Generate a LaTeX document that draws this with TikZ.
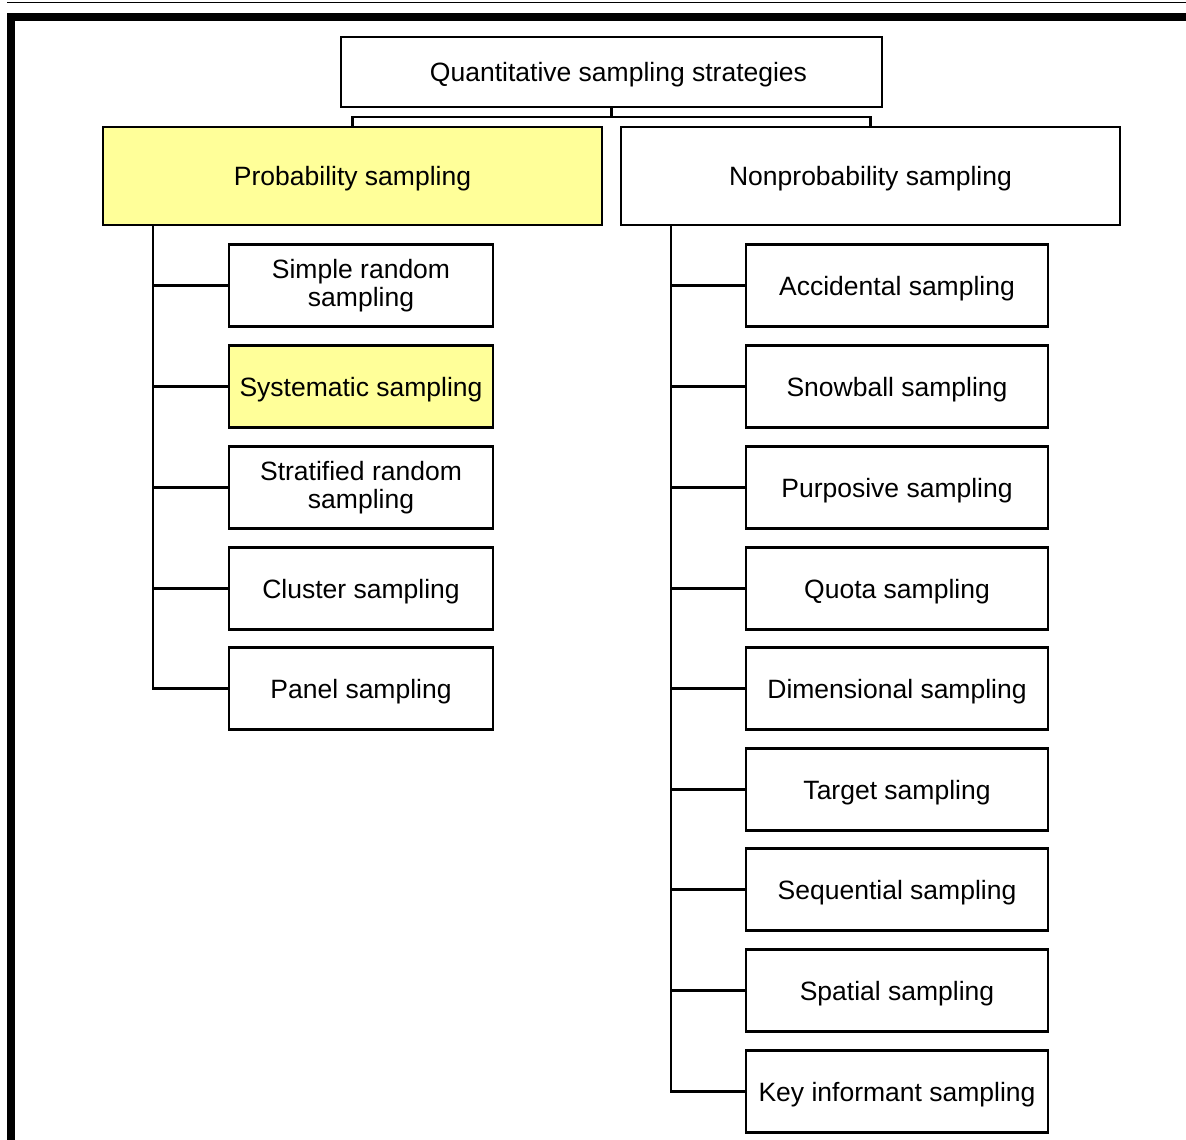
\documentclass[tikz,border=0pt]{standalone}
\usepackage{fontspec}
\setmainfont{Liberation Sans}
\definecolor{hilite}{HTML}{FFFF99}
\begin{document}
\begin{tikzpicture}[x=1pt, y=-1pt,
  box/.style={draw, line width=2.2pt, fill=white, align=center, inner sep=0pt,
    font=\fontsize{26.5}{29}\selectfont,
    execute at begin node={\rule{0pt}{24.5pt}}},
  twoline/.style={font=\fontsize{26.5}{28}\selectfont,
    execute at begin node={\rule{0pt}{30pt}}},
  headbox/.style={box, minimum width=541pt, minimum height=70pt},
  catbox/.style={box, minimum width=499pt, minimum height=98pt},
  leftbox/.style={box, minimum width=264pt, minimum height=82pt},
  rightbox/.style={box, minimum width=302pt, minimum height=82pt},
  marked/.style={fill=hilite},
  link/.style={line width=2.2pt}]
\useasboundingbox (0,0) rectangle (1186,1140);
\clip (0,0) rectangle (1186,1140);

% page rules
\draw[line width=1.6pt] (7,2.5) -- (1190,2.5);
\draw[line width=8pt, miter limit=10] (11,1150) -- (11,17) -- (1190,17);

% root and the two families
\node[headbox] (root) at (611.5,72) {\hspace*{14pt}Quantitative sampling strategies};
\node[catbox, marked] (prob) at (352.5,176) {Probability sampling};
\node[catbox] (nonprob) at (870.5,176) {Nonprobability sampling};

\coordinate (bus) at (611.5,117);
\draw[link] (root.south) -- (bus);
\draw[link] (prob.north) |- (bus) -| (nonprob.north);

% probability methods
\node[leftbox, twoline] (p1) at (361,285.5) {Simple random\\sampling};
\node[leftbox, marked] (p2) at (361,386.5) {Systematic sampling};
\node[leftbox, twoline] (p3) at (361,487.5) {Stratified random\\sampling};
\node[leftbox] (p4) at (361,588.5) {Cluster sampling};
\node[leftbox] (p5) at (361,688.5) {Panel sampling};

\coordinate (lspine) at (153,225);
\draw[link] (lspine) |- (p5.west);
\foreach \n in {p1,p2,p3,p4}
  \draw[link] (lspine |- \n.west) -- (\n.west);

% nonprobability methods
\node[rightbox] (n1) at (897,285.5) {Accidental sampling};
\node[rightbox] (n2) at (897,386.5) {Snowball sampling};
\node[rightbox] (n3) at (897,487.5) {Purposive sampling};
\node[rightbox] (n4) at (897,588.5) {Quota sampling};
\node[rightbox] (n5) at (897,688.5) {Dimensional sampling};
\node[rightbox] (n6) at (897,789.5) {Target sampling};
\node[rightbox] (n7) at (897,889.5) {Sequential sampling};
\node[rightbox] (n8) at (897,990.5) {Spatial sampling};
\node[rightbox] (n9) at (897,1091.5) {Key informant sampling};

\coordinate (rspine) at (671,225);
\draw[link] (rspine) |- (n9.west);
\foreach \n in {n1,n2,n3,n4,n5,n6,n7,n8}
  \draw[link] (rspine |- \n.west) -- (\n.west);
\end{tikzpicture}
\end{document}
